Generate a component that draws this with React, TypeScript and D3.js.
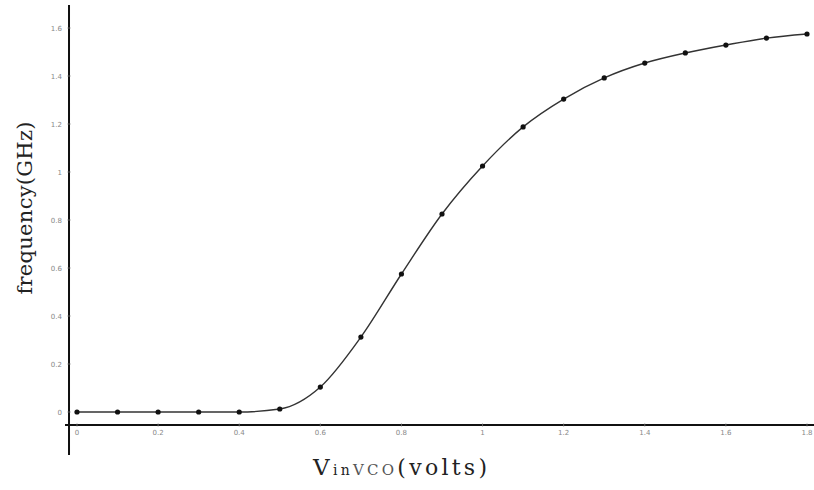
import React from "react";
import * as d3 from "d3";

const voltages = [0, 0.1, 0.2, 0.3, 0.4, 0.5, 0.6, 0.7, 0.8, 0.9, 1.0, 1.1, 1.2, 1.3, 1.4, 1.5, 1.6, 1.7, 1.8];
const frequencies = [0, 0, 0, 0, 0, 0.0125, 0.104, 0.312, 0.575, 0.825, 1.025, 1.188, 1.304, 1.392, 1.454, 1.496, 1.529, 1.558, 1.575];
const xTicks = [0, 0.2, 0.4, 0.6, 0.8, 1, 1.2, 1.4, 1.6, 1.8];
const yTicks = [0, 0.2, 0.4, 0.6, 0.8, 1, 1.2, 1.4, 1.6];

export default function App() {
  const W = 814, H = 490;
  const x = d3.scaleLinear().domain([0, 1.8]).range([77, 807]);
  const y = d3.scaleLinear().domain([0, 1.6]).range([412, 28]);
  const axisY = y(-0.054);
  const axisX = x(-0.0197);
  const data = voltages.map((v, i) => ({ v, f: frequencies[i] }));
  const line = d3.line<{ v: number; f: number }>()
    .x(d => x(d.v)).y(d => y(d.f)).curve(d3.curveMonotoneX);
  const fmt = (t: number) => (t === 0 ? "0" : String(t));
  return (
    <svg width={W} height={H} style={{ position: "absolute", left: 0, top: 0, background: "#fff" }}>
      <rect width={W} height={H} fill="#fff" />
      <line x1={axisX} x2={axisX} y1={5} y2={455} stroke="#111" strokeWidth={2} />
      <line x1={65} x2={814} y1={axisY} y2={axisY} stroke="#111" strokeWidth={2} />
      {xTicks.map(t => (
        <g key={"x" + t}>
          <line x1={x(t)} x2={x(t)} y1={axisY - 2} y2={axisY + 2} stroke="#999" strokeWidth={0.6} />
          <text x={x(t)} y={435} fontSize={7} fill="#888" textAnchor="middle" fontFamily="DejaVu Sans">{fmt(t)}</text>
        </g>
      ))}
      {yTicks.map(t => (
        <g key={"y" + t}>
          <line x1={axisX - 2} x2={axisX + 2} y1={y(t)} y2={y(t)} stroke="#999" strokeWidth={0.6} />
          <text x={62} y={y(t) + 2.5} fontSize={7} fill="#888" textAnchor="end" fontFamily="DejaVu Sans">{fmt(t)}</text>
        </g>
      ))}
      <path d={line(data) || ""} fill="none" stroke="#333" strokeWidth={1.4} />
      {data.map((d, i) => (
        <circle key={i} cx={x(d.v)} cy={y(d.f)} r={2.6} fill="#111" />
      ))}
      <text transform="translate(32,208) rotate(-90)" textAnchor="middle" fontFamily="DejaVu Serif" fontSize={21} fill="#222" textLength={173} lengthAdjust="spacing">frequency(GHz)</text>
      <text x={313} y={475} fontFamily="DejaVu Serif" fill="#222" textLength={174} lengthAdjust="spacing">
        <tspan fontSize={23}>V</tspan>
        <tspan fontSize={14}>in</tspan>
        <tspan fontSize={15} fill="#555">VCO</tspan>
        <tspan fontSize={22}>(volts)</tspan>
      </text>
    </svg>
  );
}
